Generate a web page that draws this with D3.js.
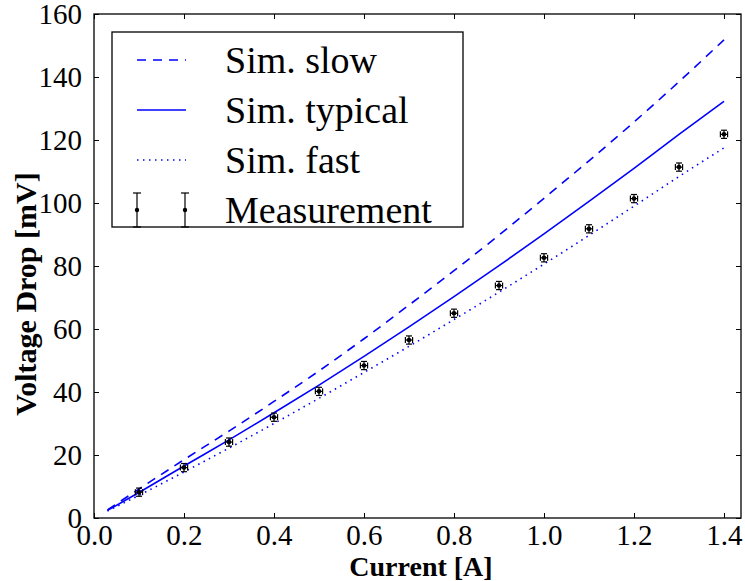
<!DOCTYPE html>
<html>
<head>
<meta charset="utf-8">
<script src="https://cdn.jsdelivr.net/npm/d3@7"></script>
<style>
body { margin: 0; background: #fff; }
text { font-family: "Liberation Serif", "Times New Roman", serif; fill: #000; }
</style>
</head>
<body>
<svg class="canvas"></svg>
<script>
// simulated curves, current in A, voltage drop in mV
var simX = [0.03, 0.1, 0.2, 0.3, 0.4, 0.5, 0.6, 0.7, 0.8, 0.9, 1.0, 1.1, 1.2, 1.3, 1.4];
var simSlow = [2.6, 9.2, 18.5, 27.6, 37, 46.7, 56.9, 67.6, 78.5, 89.8, 101.5, 113.4, 125.7, 138.5, 151.8];
var simTypical = [2.4, 8.1, 16.5, 24.8, 33.4, 42.2, 51.3, 60.7, 70.3, 80.1, 90.2, 100.5, 111, 121.8, 132.3];
var simFast = [2.2, 7.2, 14.6, 22.2, 30, 38, 46.2, 54.5, 63, 71.7, 80.6, 89.7, 99, 108.4, 117.5];

var measX = [0.1, 0.2, 0.3, 0.4, 0.5, 0.6, 0.7, 0.8, 0.9, 1.0, 1.1, 1.2, 1.3, 1.4];
var measY = [8.2, 16, 24.1, 32, 40.2, 48.4, 56.5, 65, 73.8, 82.6, 91.8, 101.4, 111.4, 121.8];
var measErrX = 0.008;
var measErrY = 1.3;

var xTicks = [0.0, 0.2, 0.4, 0.6, 0.8, 1.0, 1.2, 1.4];
var yTicks = [0, 20, 40, 60, 80, 100, 120, 140, 160];

var legendNames = ["Sim. slow", "Sim. typical", "Sim. fast", "Measurement"];

var width = 745,
	height = 581;

var LEFT = 94, RIGHT = 741, TOP = 14, BOTTOM = 518;
var TICK = 5;
var BLUE = "#0000ff";

var canvas = d3.select(".canvas")
	.attr("width", width)
	.attr("height", height);

var x = d3.scaleLinear().domain([0, 1.4378]).range([LEFT, RIGHT]);
var y = d3.scaleLinear().domain([0, 160]).range([BOTTOM, TOP]);

// axes with inward ticks on all four sides
canvas.append("g")
	.attr("transform", "translate(0," + BOTTOM + ")")
	.call(d3.axisBottom(x).tickValues(xTicks).tickSizeInner(-TICK).tickSizeOuter(0).tickPadding(6)
		.tickFormat(d3.format(".1f")))
	.call(styleAxis);

canvas.append("g")
	.attr("transform", "translate(0," + TOP + ")")
	.call(d3.axisTop(x).tickValues(xTicks).tickSizeInner(-TICK).tickSizeOuter(0).tickFormat(""))
	.call(styleAxis);

canvas.append("g")
	.attr("transform", "translate(" + LEFT + ",0)")
	.call(d3.axisLeft(y).tickValues(yTicks).tickSizeInner(-TICK).tickSizeOuter(0).tickPadding(12))
	.call(styleAxis);

canvas.append("g")
	.attr("transform", "translate(" + RIGHT + ",0)")
	.call(d3.axisRight(y).tickValues(yTicks).tickSizeInner(-TICK).tickSizeOuter(0).tickFormat(""))
	.call(styleAxis);

function styleAxis(g) {
	g.select(".domain").remove();
	g.selectAll(".tick line").attr("stroke", "#000").attr("stroke-width", 1);
	g.selectAll(".tick text").style("font-size", "29px");
}

// frame
canvas.append("rect")
	.attr("x", LEFT).attr("y", TOP)
	.attr("width", RIGHT - LEFT).attr("height", BOTTOM - TOP)
	.attr("fill", "none").attr("stroke", "#000").attr("stroke-width", 1.3);

// simulation lines
var line = d3.line()
	.x(function(d) { return x(d[0]); })
	.y(function(d) { return y(d[1]); })
	.curve(d3.curveMonotoneX);

var series = [
	{ vals: simSlow, dash: "9,7" },
	{ vals: simTypical, dash: null },
	{ vals: simFast, dash: "1.5,4.5" }
];

canvas.selectAll("path.sim").data(series)
	.enter().append("path")
	.attr("class", "sim")
	.attr("fill", "none")
	.attr("stroke", BLUE)
	.attr("stroke-width", 1.6)
	.attr("stroke-dasharray", function(d) { return d.dash; })
	.attr("d", function(d) { return line(simX.map(function(v, i) { return [v, d.vals[i]]; })); });

// measurements with error bars
var meas = canvas.selectAll("g.meas").data(measX)
	.enter().append("g")
	.attr("class", "meas");

meas.each(function(d, i) {
	var g = d3.select(this);
	var cx = x(d), cy = y(measY[i]);
	var x0 = x(d - measErrX), x1 = x(d + measErrX);
	var y0 = y(measY[i] - measErrY), y1 = y(measY[i] + measErrY);
	var segs = [
		[x0, cy, x1, cy], [cx, y0, cx, y1],
		[x0, cy - 3, x0, cy + 3], [x1, cy - 3, x1, cy + 3],
		[cx - 3, y0, cx + 3, y0], [cx - 3, y1, cx + 3, y1]
	];
	g.selectAll("line").data(segs).enter().append("line")
		.attr("x1", function(s) { return s[0]; })
		.attr("y1", function(s) { return s[1]; })
		.attr("x2", function(s) { return s[2]; })
		.attr("y2", function(s) { return s[3]; })
		.attr("stroke", "#000").attr("stroke-width", 1.2);
	g.append("circle").attr("cx", cx).attr("cy", cy).attr("r", 2.3).attr("fill", "#000");
});

// legend
var legend = canvas.append("g").attr("transform", "translate(112,32)");

legend.append("rect")
	.attr("width", 351).attr("height", 195)
	.attr("fill", "#fff").attr("stroke", "#000").attr("stroke-width", 1.3);

var ROW_H = 50;
var rows = legend.selectAll("g.row").data(legendNames)
	.enter().append("g")
	.attr("class", "row")
	.attr("transform", function(d, i) { return "translate(0," + (28 + i * ROW_H) + ")"; });

rows.append("text")
	.attr("x", 113)
	.attr("y", 0)
	.attr("dy", "0.34em")
	.style("font-size", "38px")
	.text(function(d) { return d; });

rows.filter(function(d, i) { return i < 3; })
	.append("line")
	.attr("x1", 25).attr("x2", 74)
	.attr("y1", 0).attr("y2", 0)
	.attr("stroke", BLUE)
	.attr("stroke-width", 1.6)
	.attr("stroke-dasharray", function(d, i) { return series[i].dash; });

var errRow = rows.filter(function(d, i) { return i === 3; });
[25, 73].forEach(function(lx) {
	errRow.append("line").attr("x1", lx).attr("x2", lx).attr("y1", -17).attr("y2", 17)
		.attr("stroke", "#000").attr("stroke-width", 1.2);
	errRow.append("line").attr("x1", lx - 4).attr("x2", lx + 4).attr("y1", -17).attr("y2", -17)
		.attr("stroke", "#000").attr("stroke-width", 1.2);
	errRow.append("line").attr("x1", lx - 4).attr("x2", lx + 4).attr("y1", 17).attr("y2", 17)
		.attr("stroke", "#000").attr("stroke-width", 1.2);
	errRow.append("circle").attr("cx", lx).attr("cy", 0).attr("r", 2.2).attr("fill", "#000");
});

// axis labels
canvas.append("text")
	.attr("x", 421)
	.attr("y", 576)
	.attr("text-anchor", "middle")
	.style("font-size", "28px")
	.style("font-weight", "bold")
	.text("Current [A]");

canvas.append("text")
	.attr("transform", "translate(36,294) rotate(-90)")
	.attr("text-anchor", "middle")
	.style("font-size", "30px")
	.style("font-weight", "bold")
	.text("Voltage Drop [mV]");
</script>
</body>
</html>
